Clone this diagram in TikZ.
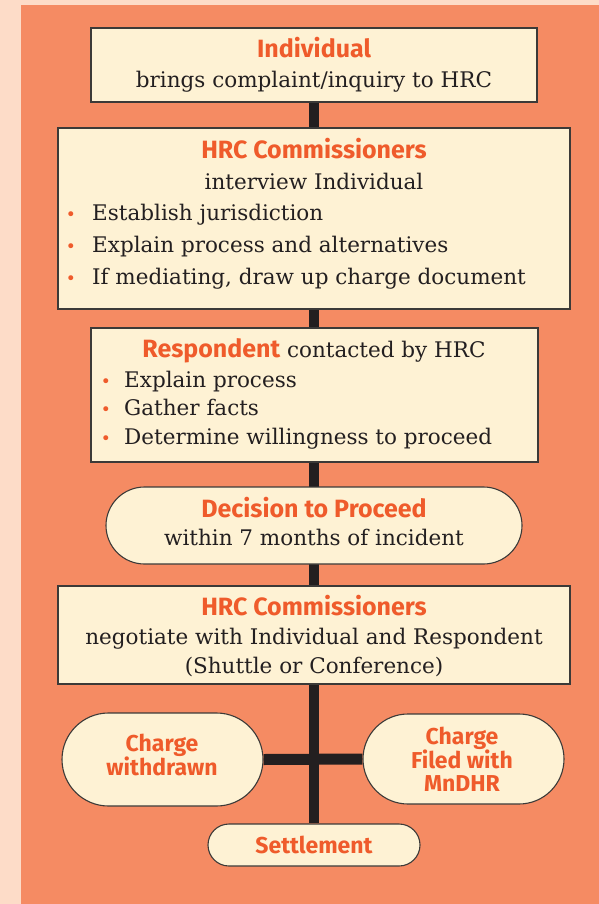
\documentclass[tikz,border=0pt]{standalone}
\usepackage{fontspec}
\setmainfont{DejaVu Serif}
\setsansfont{Fira Sans}
\usetikzlibrary{backgrounds}
\definecolor{peach}{HTML}{FDDCC8}
\definecolor{panelc}{HTML}{F58B63}
\definecolor{boxfill}{HTML}{FEF2D4}
\definecolor{ortext}{HTML}{EF5B2B}
\definecolor{darkc}{HTML}{231F20}
\definecolor{edgec}{HTML}{3C3A38}
\tikzset{
  box/.style={draw=edgec, line width=1.1pt, fill=boxfill, inner sep=0pt},
  pill/.style={box, rounded corners=#1},
  spine/.style={draw=darkc, line width=10pt},
  bar/.style={draw=darkc, line width=11pt},
  txt/.style={inner sep=0pt, anchor=base, text=darkc, font=\fontsize{21.5}{24}\selectfont},
  txtl/.style={txt, anchor=base west},
  ttl/.style={inner sep=0pt, anchor=base, text=ortext, font=\sffamily\bfseries\fontsize{25}{28}\selectfont},
  ttlb/.style={inner sep=0pt, anchor=base, text=ortext, font=\sffamily\bfseries\fontsize{23}{24}\selectfont},
  bul/.style={inner sep=0pt, anchor=base, text=ortext, font=\fontsize{17}{18}\selectfont},
}
\newcommand{\ttlfont}{\sffamily\bfseries\fontsize{25}{28}\selectfont}
\begin{document}
\begin{tikzpicture}[x=1pt,y=-1pt]
\useasboundingbox (0,0) rectangle (599,904);
% boxes
\node[box, minimum width=446pt, minimum height=74pt] (b1) at (314,65) {};
\node[box, minimum width=512pt, minimum height=181pt] (b2) at (314,218.5) {};
\node[box, minimum width=447pt, minimum height=134pt] (b3) at (314.5,395) {};
\node[pill=38.5pt, minimum width=416pt, minimum height=77pt] (b4) at (314,525.5) {};
\node[box, minimum width=512pt, minimum height=98pt] (b5) at (314,635) {};
\node[pill=46.5pt, minimum width=201pt, minimum height=93pt] (b6) at (162.5,759.5) {};
\node[pill=45pt, minimum width=201pt, minimum height=90pt] (b7) at (463.5,759) {};
\node[pill=21pt, minimum width=212pt, minimum height=42pt] (b8) at (314,845) {};
\begin{pgfonlayer}{background}
  \fill[peach] (0,0) rectangle (599,904);
  \fill[panelc] (21,5) rectangle (599,904);
  \draw[spine] (b1.south) -- (b8.north);
  \draw[bar] (b6.east) -- (b7.west);
\end{pgfonlayer}
% box 1
\node[ttl] (t1a) at (314,57.5) {Individual};
\node[txt] (t1b) at (314,87.5) {brings complaint/inquiry to HRC};
% box 2
\node[ttl] (t2a) at (314,158.5) {HRC Commissioners};
\node[txt] (t2b) at (314,189.5) {interview Individual};
\node[bul] (u21) at (71,220.5) {\textbullet};
\node[txtl] (t21) at (92,220.5) {Establish jurisdiction};
\node[bul] (u22) at (71,252.5) {\textbullet};
\node[txtl] (t22) at (92,252.5) {Explain process and alternatives};
\node[bul] (u23) at (71,284.5) {\textbullet};
\node[txtl] (t23) at (92,284.5) {If mediating, draw up charge document};
% box 3
\node[txt] (t3a) at (314,357) {{\color{ortext}\ttlfont Respondent} contacted by HRC};
\node[bul] (u31) at (106,387.5) {\textbullet};
\node[txtl] (t31) at (124,387.5) {Explain process};
\node[bul] (u32) at (106,415.5) {\textbullet};
\node[txtl] (t32) at (124,415.5) {Gather facts};
\node[bul] (u33) at (106,444.5) {\textbullet};
\node[txtl] (t33) at (124,444.5) {Determine willingness to proceed};
% box 4
\node[ttl] (t4a) at (314,517.5) {Decision to Proceed};
\node[txt] (t4b) at (314,545.5) {within 7 months of incident};
% box 5
\node[ttl] (t5a) at (314,615.5) {HRC Commissioners};
\node[txt] (t5b) at (314,644.5) {negotiate with Individual and Respondent};
\node[txt] (t5c) at (314,673.5) {(Shuttle or Conference)};
% bubbles
\node[ttlb] (t6a) at (162,751) {Charge};
\node[ttlb] (t6b) at (162,775) {withdrawn};
\node[ttlb] (t7a) at (462,744) {Charge};
\node[ttlb] (t7b) at (462,768) {Filed with};
\node[ttlb] (t7c) at (462,791) {MnDHR};
\node[ttlb] (t8a) at (314,853) {Settlement};
\end{tikzpicture}
\end{document}
